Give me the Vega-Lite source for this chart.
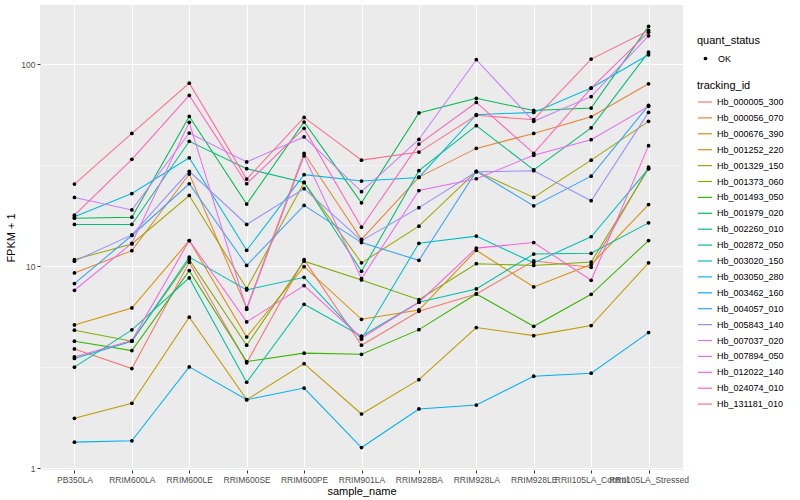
{
"$schema": "https://vega.github.io/schema/vega-lite/v6.json",
"autosize": {"type": "none"},
"padding": {"left": 40, "top": 5, "right": 117, "bottom": 30},
"width": 643,
"height": 465,
"background": "white",
"config": {
  "font": "Liberation Sans",
  "view": {"fill": "#EBEBEB", "stroke": null},
  "axis": {"domain": false, "labelColor": "#4D4D4D", "labelFontSize": 8.5, "tickColor": "#333333", "tickSize": 3, "gridColor": "white", "titleFontWeight": "normal", "titleFontSize": 11, "titleColor": "black", "labelPadding": 2},
  "legend": {"titleFontWeight": "normal", "titleFontSize": 11, "titleColor": "black", "labelFontSize": 9, "labelColor": "black", "padding": 0}
},
"data": {"values": [
{"id":"Hb_000005_300","sample":"PB350LA","fpkm":3.90,"status":"OK"},
{"id":"Hb_000005_300","sample":"RRIM600LA","fpkm":3.12,"status":"OK"},
{"id":"Hb_000005_300","sample":"RRIM600LE","fpkm":10.47,"status":"OK"},
{"id":"Hb_000005_300","sample":"RRIM600SE","fpkm":3.33,"status":"OK"},
{"id":"Hb_000005_300","sample":"RRIM600PE","fpkm":10.79,"status":"OK"},
{"id":"Hb_000005_300","sample":"RRIM901LA","fpkm":4.07,"status":"OK"},
{"id":"Hb_000005_300","sample":"RRIM928BA","fpkm":5.99,"status":"OK"},
{"id":"Hb_000005_300","sample":"RRIM928LA","fpkm":7.30,"status":"OK"},
{"id":"Hb_000005_300","sample":"RRIM928LE","fpkm":10.63,"status":"OK"},
{"id":"Hb_000005_300","sample":"RRII105LA_Control","fpkm":9.89,"status":"OK"},
{"id":"Hb_000005_300","sample":"RRII105LA_Stressed","fpkm":30.97,"status":"OK"},
{"id":"Hb_000056_070","sample":"PB350LA","fpkm":9.27,"status":"OK"},
{"id":"Hb_000056_070","sample":"RRIM600LA","fpkm":11.95,"status":"OK"},
{"id":"Hb_000056_070","sample":"RRIM600LE","fpkm":28.6,"status":"OK"},
{"id":"Hb_000056_070","sample":"RRIM600SE","fpkm":6.22,"status":"OK"},
{"id":"Hb_000056_070","sample":"RRIM600PE","fpkm":36.2,"status":"OK"},
{"id":"Hb_000056_070","sample":"RRIM901LA","fpkm":13.6,"status":"OK"},
{"id":"Hb_000056_070","sample":"RRIM928BA","fpkm":27.6,"status":"OK"},
{"id":"Hb_000056_070","sample":"RRIM928LA","fpkm":38.3,"status":"OK"},
{"id":"Hb_000056_070","sample":"RRIM928LE","fpkm":45.4,"status":"OK"},
{"id":"Hb_000056_070","sample":"RRII105LA_Control","fpkm":54.9,"status":"OK"},
{"id":"Hb_000056_070","sample":"RRII105LA_Stressed","fpkm":79.9,"status":"OK"},
{"id":"Hb_000676_390","sample":"PB350LA","fpkm":5.13,"status":"OK"},
{"id":"Hb_000676_390","sample":"RRIM600LA","fpkm":6.22,"status":"OK"},
{"id":"Hb_000676_390","sample":"RRIM600LE","fpkm":13.4,"status":"OK"},
{"id":"Hb_000676_390","sample":"RRIM600SE","fpkm":4.47,"status":"OK"},
{"id":"Hb_000676_390","sample":"RRIM600PE","fpkm":9.96,"status":"OK"},
{"id":"Hb_000676_390","sample":"RRIM901LA","fpkm":5.47,"status":"OK"},
{"id":"Hb_000676_390","sample":"RRIM928BA","fpkm":6.08,"status":"OK"},
{"id":"Hb_000676_390","sample":"RRIM928LA","fpkm":12.0,"status":"OK"},
{"id":"Hb_000676_390","sample":"RRIM928LE","fpkm":7.90,"status":"OK"},
{"id":"Hb_000676_390","sample":"RRII105LA_Control","fpkm":10.2,"status":"OK"},
{"id":"Hb_000676_390","sample":"RRII105LA_Stressed","fpkm":20.2,"status":"OK"},
{"id":"Hb_001252_220","sample":"PB350LA","fpkm":1.77,"status":"OK"},
{"id":"Hb_001252_220","sample":"RRIM600LA","fpkm":2.10,"status":"OK"},
{"id":"Hb_001252_220","sample":"RRIM600LE","fpkm":5.60,"status":"OK"},
{"id":"Hb_001252_220","sample":"RRIM600SE","fpkm":2.19,"status":"OK"},
{"id":"Hb_001252_220","sample":"RRIM600PE","fpkm":3.30,"status":"OK"},
{"id":"Hb_001252_220","sample":"RRIM901LA","fpkm":1.86,"status":"OK"},
{"id":"Hb_001252_220","sample":"RRIM928BA","fpkm":2.75,"status":"OK"},
{"id":"Hb_001252_220","sample":"RRIM928LA","fpkm":4.98,"status":"OK"},
{"id":"Hb_001252_220","sample":"RRIM928LE","fpkm":4.54,"status":"OK"},
{"id":"Hb_001252_220","sample":"RRII105LA_Control","fpkm":5.09,"status":"OK"},
{"id":"Hb_001252_220","sample":"RRII105LA_Stressed","fpkm":10.4,"status":"OK"},
{"id":"Hb_001329_150","sample":"PB350LA","fpkm":10.79,"status":"OK"},
{"id":"Hb_001329_150","sample":"RRIM600LA","fpkm":12.9,"status":"OK"},
{"id":"Hb_001329_150","sample":"RRIM600LE","fpkm":22.4,"status":"OK"},
{"id":"Hb_001329_150","sample":"RRIM600SE","fpkm":7.76,"status":"OK"},
{"id":"Hb_001329_150","sample":"RRIM600PE","fpkm":26.0,"status":"OK"},
{"id":"Hb_001329_150","sample":"RRIM901LA","fpkm":10.4,"status":"OK"},
{"id":"Hb_001329_150","sample":"RRIM928BA","fpkm":15.8,"status":"OK"},
{"id":"Hb_001329_150","sample":"RRIM928LA","fpkm":29.5,"status":"OK"},
{"id":"Hb_001329_150","sample":"RRIM928LE","fpkm":21.9,"status":"OK"},
{"id":"Hb_001329_150","sample":"RRII105LA_Control","fpkm":33.5,"status":"OK"},
{"id":"Hb_001329_150","sample":"RRII105LA_Stressed","fpkm":52.1,"status":"OK"},
{"id":"Hb_001373_060","sample":"PB350LA","fpkm":4.83,"status":"OK"},
{"id":"Hb_001373_060","sample":"RRIM600LA","fpkm":4.26,"status":"OK"},
{"id":"Hb_001373_060","sample":"RRIM600LE","fpkm":10.79,"status":"OK"},
{"id":"Hb_001373_060","sample":"RRIM600SE","fpkm":4.07,"status":"OK"},
{"id":"Hb_001373_060","sample":"RRIM600PE","fpkm":10.6,"status":"OK"},
{"id":"Hb_001373_060","sample":"RRIM901LA","fpkm":8.56,"status":"OK"},
{"id":"Hb_001373_060","sample":"RRIM928BA","fpkm":6.84,"status":"OK"},
{"id":"Hb_001373_060","sample":"RRIM928LA","fpkm":10.3,"status":"OK"},
{"id":"Hb_001373_060","sample":"RRIM928LE","fpkm":10.1,"status":"OK"},
{"id":"Hb_001373_060","sample":"RRII105LA_Control","fpkm":10.5,"status":"OK"},
{"id":"Hb_001373_060","sample":"RRII105LA_Stressed","fpkm":30.4,"status":"OK"},
{"id":"Hb_001493_050","sample":"PB350LA","fpkm":4.26,"status":"OK"},
{"id":"Hb_001493_050","sample":"RRIM600LA","fpkm":3.83,"status":"OK"},
{"id":"Hb_001493_050","sample":"RRIM600LE","fpkm":9.52,"status":"OK"},
{"id":"Hb_001493_050","sample":"RRIM600SE","fpkm":3.38,"status":"OK"},
{"id":"Hb_001493_050","sample":"RRIM600PE","fpkm":3.72,"status":"OK"},
{"id":"Hb_001493_050","sample":"RRIM901LA","fpkm":3.67,"status":"OK"},
{"id":"Hb_001493_050","sample":"RRIM928BA","fpkm":4.86,"status":"OK"},
{"id":"Hb_001493_050","sample":"RRIM928LA","fpkm":7.30,"status":"OK"},
{"id":"Hb_001493_050","sample":"RRIM928LE","fpkm":5.05,"status":"OK"},
{"id":"Hb_001493_050","sample":"RRII105LA_Control","fpkm":7.27,"status":"OK"},
{"id":"Hb_001493_050","sample":"RRII105LA_Stressed","fpkm":13.4,"status":"OK"},
{"id":"Hb_001979_020","sample":"PB350LA","fpkm":17.3,"status":"OK"},
{"id":"Hb_001979_020","sample":"RRIM600LA","fpkm":17.5,"status":"OK"},
{"id":"Hb_001979_020","sample":"RRIM600LE","fpkm":55.1,"status":"OK"},
{"id":"Hb_001979_020","sample":"RRIM600SE","fpkm":20.3,"status":"OK"},
{"id":"Hb_001979_020","sample":"RRIM600PE","fpkm":51.7,"status":"OK"},
{"id":"Hb_001979_020","sample":"RRIM901LA","fpkm":20.6,"status":"OK"},
{"id":"Hb_001979_020","sample":"RRIM928BA","fpkm":57.3,"status":"OK"},
{"id":"Hb_001979_020","sample":"RRIM928LA","fpkm":67.7,"status":"OK"},
{"id":"Hb_001979_020","sample":"RRIM928LE","fpkm":59.0,"status":"OK"},
{"id":"Hb_001979_020","sample":"RRII105LA_Control","fpkm":60.6,"status":"OK"},
{"id":"Hb_001979_020","sample":"RRII105LA_Stressed","fpkm":153.6,"status":"OK"},
{"id":"Hb_002260_010","sample":"PB350LA","fpkm":16.1,"status":"OK"},
{"id":"Hb_002260_010","sample":"RRIM600LA","fpkm":16.1,"status":"OK"},
{"id":"Hb_002260_010","sample":"RRIM600LE","fpkm":41.5,"status":"OK"},
{"id":"Hb_002260_010","sample":"RRIM600SE","fpkm":30.4,"status":"OK"},
{"id":"Hb_002260_010","sample":"RRIM600PE","fpkm":26.0,"status":"OK"},
{"id":"Hb_002260_010","sample":"RRIM901LA","fpkm":9.45,"status":"OK"},
{"id":"Hb_002260_010","sample":"RRIM928BA","fpkm":29.7,"status":"OK"},
{"id":"Hb_002260_010","sample":"RRIM928LA","fpkm":49.6,"status":"OK"},
{"id":"Hb_002260_010","sample":"RRIM928LE","fpkm":30.0,"status":"OK"},
{"id":"Hb_002260_010","sample":"RRII105LA_Control","fpkm":48.4,"status":"OK"},
{"id":"Hb_002260_010","sample":"RRII105LA_Stressed","fpkm":114.6,"status":"OK"},
{"id":"Hb_002872_050","sample":"PB350LA","fpkm":3.17,"status":"OK"},
{"id":"Hb_002872_050","sample":"RRIM600LA","fpkm":4.85,"status":"OK"},
{"id":"Hb_002872_050","sample":"RRIM600LE","fpkm":8.76,"status":"OK"},
{"id":"Hb_002872_050","sample":"RRIM600SE","fpkm":2.67,"status":"OK"},
{"id":"Hb_002872_050","sample":"RRIM600PE","fpkm":6.49,"status":"OK"},
{"id":"Hb_002872_050","sample":"RRIM901LA","fpkm":4.51,"status":"OK"},
{"id":"Hb_002872_050","sample":"RRIM928BA","fpkm":6.64,"status":"OK"},
{"id":"Hb_002872_050","sample":"RRIM928LA","fpkm":7.73,"status":"OK"},
{"id":"Hb_002872_050","sample":"RRIM928LE","fpkm":11.5,"status":"OK"},
{"id":"Hb_002872_050","sample":"RRII105LA_Control","fpkm":11.6,"status":"OK"},
{"id":"Hb_002872_050","sample":"RRII105LA_Stressed","fpkm":16.4,"status":"OK"},
{"id":"Hb_003020_150","sample":"PB350LA","fpkm":3.50,"status":"OK"},
{"id":"Hb_003020_150","sample":"RRIM600LA","fpkm":4.26,"status":"OK"},
{"id":"Hb_003020_150","sample":"RRIM600LE","fpkm":11.1,"status":"OK"},
{"id":"Hb_003020_150","sample":"RRIM600SE","fpkm":7.64,"status":"OK"},
{"id":"Hb_003020_150","sample":"RRIM600PE","fpkm":8.82,"status":"OK"},
{"id":"Hb_003020_150","sample":"RRIM901LA","fpkm":4.36,"status":"OK"},
{"id":"Hb_003020_150","sample":"RRIM928BA","fpkm":13.0,"status":"OK"},
{"id":"Hb_003020_150","sample":"RRIM928LA","fpkm":14.1,"status":"OK"},
{"id":"Hb_003020_150","sample":"RRIM928LE","fpkm":10.4,"status":"OK"},
{"id":"Hb_003020_150","sample":"RRII105LA_Control","fpkm":14.0,"status":"OK"},
{"id":"Hb_003020_150","sample":"RRII105LA_Stressed","fpkm":30.4,"status":"OK"},
{"id":"Hb_003050_280","sample":"PB350LA","fpkm":17.6,"status":"OK"},
{"id":"Hb_003050_280","sample":"RRIM600LA","fpkm":22.9,"status":"OK"},
{"id":"Hb_003050_280","sample":"RRIM600LE","fpkm":34.4,"status":"OK"},
{"id":"Hb_003050_280","sample":"RRIM600SE","fpkm":12.0,"status":"OK"},
{"id":"Hb_003050_280","sample":"RRIM600PE","fpkm":28.4,"status":"OK"},
{"id":"Hb_003050_280","sample":"RRIM901LA","fpkm":26.4,"status":"OK"},
{"id":"Hb_003050_280","sample":"RRIM928BA","fpkm":27.5,"status":"OK"},
{"id":"Hb_003050_280","sample":"RRIM928LA","fpkm":56.2,"status":"OK"},
{"id":"Hb_003050_280","sample":"RRIM928LE","fpkm":57.7,"status":"OK"},
{"id":"Hb_003050_280","sample":"RRII105LA_Control","fpkm":76.1,"status":"OK"},
{"id":"Hb_003050_280","sample":"RRII105LA_Stressed","fpkm":111.2,"status":"OK"},
{"id":"Hb_003462_160","sample":"PB350LA","fpkm":1.35,"status":"OK"},
{"id":"Hb_003462_160","sample":"RRIM600LA","fpkm":1.37,"status":"OK"},
{"id":"Hb_003462_160","sample":"RRIM600LE","fpkm":3.18,"status":"OK"},
{"id":"Hb_003462_160","sample":"RRIM600SE","fpkm":2.19,"status":"OK"},
{"id":"Hb_003462_160","sample":"RRIM600PE","fpkm":2.50,"status":"OK"},
{"id":"Hb_003462_160","sample":"RRIM901LA","fpkm":1.27,"status":"OK"},
{"id":"Hb_003462_160","sample":"RRIM928BA","fpkm":1.97,"status":"OK"},
{"id":"Hb_003462_160","sample":"RRIM928LA","fpkm":2.06,"status":"OK"},
{"id":"Hb_003462_160","sample":"RRIM928LE","fpkm":2.86,"status":"OK"},
{"id":"Hb_003462_160","sample":"RRII105LA_Control","fpkm":2.96,"status":"OK"},
{"id":"Hb_003462_160","sample":"RRII105LA_Stressed","fpkm":4.70,"status":"OK"},
{"id":"Hb_004057_010","sample":"PB350LA","fpkm":8.21,"status":"OK"},
{"id":"Hb_004057_010","sample":"RRIM600LA","fpkm":14.2,"status":"OK"},
{"id":"Hb_004057_010","sample":"RRIM600LE","fpkm":25.6,"status":"OK"},
{"id":"Hb_004057_010","sample":"RRIM600SE","fpkm":10.1,"status":"OK"},
{"id":"Hb_004057_010","sample":"RRIM600PE","fpkm":20.0,"status":"OK"},
{"id":"Hb_004057_010","sample":"RRIM901LA","fpkm":13.1,"status":"OK"},
{"id":"Hb_004057_010","sample":"RRIM928BA","fpkm":10.7,"status":"OK"},
{"id":"Hb_004057_010","sample":"RRIM928LA","fpkm":29.5,"status":"OK"},
{"id":"Hb_004057_010","sample":"RRIM928LE","fpkm":19.9,"status":"OK"},
{"id":"Hb_004057_010","sample":"RRII105LA_Control","fpkm":27.9,"status":"OK"},
{"id":"Hb_004057_010","sample":"RRII105LA_Stressed","fpkm":62.5,"status":"OK"},
{"id":"Hb_005843_140","sample":"PB350LA","fpkm":10.6,"status":"OK"},
{"id":"Hb_005843_140","sample":"RRIM600LA","fpkm":14.3,"status":"OK"},
{"id":"Hb_005843_140","sample":"RRIM600LE","fpkm":29.5,"status":"OK"},
{"id":"Hb_005843_140","sample":"RRIM600SE","fpkm":16.1,"status":"OK"},
{"id":"Hb_005843_140","sample":"RRIM600PE","fpkm":24.2,"status":"OK"},
{"id":"Hb_005843_140","sample":"RRIM901LA","fpkm":13.4,"status":"OK"},
{"id":"Hb_005843_140","sample":"RRIM928BA","fpkm":19.5,"status":"OK"},
{"id":"Hb_005843_140","sample":"RRIM928LA","fpkm":29.3,"status":"OK"},
{"id":"Hb_005843_140","sample":"RRIM928LE","fpkm":29.7,"status":"OK"},
{"id":"Hb_005843_140","sample":"RRII105LA_Control","fpkm":21.1,"status":"OK"},
{"id":"Hb_005843_140","sample":"RRII105LA_Stressed","fpkm":57.7,"status":"OK"},
{"id":"Hb_007037_020","sample":"PB350LA","fpkm":21.9,"status":"OK"},
{"id":"Hb_007037_020","sample":"RRIM600LA","fpkm":19.0,"status":"OK"},
{"id":"Hb_007037_020","sample":"RRIM600LE","fpkm":45.6,"status":"OK"},
{"id":"Hb_007037_020","sample":"RRIM600SE","fpkm":32.8,"status":"OK"},
{"id":"Hb_007037_020","sample":"RRIM600PE","fpkm":43.6,"status":"OK"},
{"id":"Hb_007037_020","sample":"RRIM901LA","fpkm":23.4,"status":"OK"},
{"id":"Hb_007037_020","sample":"RRIM928BA","fpkm":42.4,"status":"OK"},
{"id":"Hb_007037_020","sample":"RRIM928LA","fpkm":105.1,"status":"OK"},
{"id":"Hb_007037_020","sample":"RRIM928LE","fpkm":52.1,"status":"OK"},
{"id":"Hb_007037_020","sample":"RRII105LA_Control","fpkm":69.0,"status":"OK"},
{"id":"Hb_007037_020","sample":"RRII105LA_Stressed","fpkm":138.0,"status":"OK"},
{"id":"Hb_007894_050","sample":"PB350LA","fpkm":7.61,"status":"OK"},
{"id":"Hb_007894_050","sample":"RRIM600LA","fpkm":13.0,"status":"OK"},
{"id":"Hb_007894_050","sample":"RRIM600LE","fpkm":51.5,"status":"OK"},
{"id":"Hb_007894_050","sample":"RRIM600SE","fpkm":6.13,"status":"OK"},
{"id":"Hb_007894_050","sample":"RRIM600PE","fpkm":35.2,"status":"OK"},
{"id":"Hb_007894_050","sample":"RRIM901LA","fpkm":8.69,"status":"OK"},
{"id":"Hb_007894_050","sample":"RRIM928BA","fpkm":23.7,"status":"OK"},
{"id":"Hb_007894_050","sample":"RRIM928LA","fpkm":27.1,"status":"OK"},
{"id":"Hb_007894_050","sample":"RRIM928LE","fpkm":35.4,"status":"OK"},
{"id":"Hb_007894_050","sample":"RRII105LA_Control","fpkm":42.3,"status":"OK"},
{"id":"Hb_007894_050","sample":"RRII105LA_Stressed","fpkm":61.8,"status":"OK"},
{"id":"Hb_012022_140","sample":"PB350LA","fpkm":3.56,"status":"OK"},
{"id":"Hb_012022_140","sample":"RRIM600LA","fpkm":4.29,"status":"OK"},
{"id":"Hb_012022_140","sample":"RRIM600LE","fpkm":13.4,"status":"OK"},
{"id":"Hb_012022_140","sample":"RRIM600SE","fpkm":5.31,"status":"OK"},
{"id":"Hb_012022_140","sample":"RRIM600PE","fpkm":8.03,"status":"OK"},
{"id":"Hb_012022_140","sample":"RRIM901LA","fpkm":4.42,"status":"OK"},
{"id":"Hb_012022_140","sample":"RRIM928BA","fpkm":6.64,"status":"OK"},
{"id":"Hb_012022_140","sample":"RRIM928LA","fpkm":12.3,"status":"OK"},
{"id":"Hb_012022_140","sample":"RRIM928LE","fpkm":13.1,"status":"OK"},
{"id":"Hb_012022_140","sample":"RRII105LA_Control","fpkm":8.53,"status":"OK"},
{"id":"Hb_012022_140","sample":"RRII105LA_Stressed","fpkm":39.5,"status":"OK"},
{"id":"Hb_024074_010","sample":"PB350LA","fpkm":17.9,"status":"OK"},
{"id":"Hb_024074_010","sample":"RRIM600LA","fpkm":33.8,"status":"OK"},
{"id":"Hb_024074_010","sample":"RRIM600LE","fpkm":70.0,"status":"OK"},
{"id":"Hb_024074_010","sample":"RRIM600SE","fpkm":25.6,"status":"OK"},
{"id":"Hb_024074_010","sample":"RRIM600PE","fpkm":48.1,"status":"OK"},
{"id":"Hb_024074_010","sample":"RRIM901LA","fpkm":15.6,"status":"OK"},
{"id":"Hb_024074_010","sample":"RRIM928BA","fpkm":40.2,"status":"OK"},
{"id":"Hb_024074_010","sample":"RRIM928LA","fpkm":64.6,"status":"OK"},
{"id":"Hb_024074_010","sample":"RRIM928LE","fpkm":36.2,"status":"OK"},
{"id":"Hb_024074_010","sample":"RRII105LA_Control","fpkm":76.1,"status":"OK"},
{"id":"Hb_024074_010","sample":"RRII105LA_Stressed","fpkm":143.9,"status":"OK"},
{"id":"Hb_131181_010","sample":"PB350LA","fpkm":25.5,"status":"OK"},
{"id":"Hb_131181_010","sample":"RRIM600LA","fpkm":45.4,"status":"OK"},
{"id":"Hb_131181_010","sample":"RRIM600LE","fpkm":80.5,"status":"OK"},
{"id":"Hb_131181_010","sample":"RRIM600SE","fpkm":27.0,"status":"OK"},
{"id":"Hb_131181_010","sample":"RRIM600PE","fpkm":54.5,"status":"OK"},
{"id":"Hb_131181_010","sample":"RRIM901LA","fpkm":33.5,"status":"OK"},
{"id":"Hb_131181_010","sample":"RRIM928BA","fpkm":36.7,"status":"OK"},
{"id":"Hb_131181_010","sample":"RRIM928LA","fpkm":55.8,"status":"OK"},
{"id":"Hb_131181_010","sample":"RRIM928LE","fpkm":53.1,"status":"OK"},
{"id":"Hb_131181_010","sample":"RRII105LA_Control","fpkm":105.9,"status":"OK"},
{"id":"Hb_131181_010","sample":"RRII105LA_Stressed","fpkm":146.7,"status":"OK"}
]},
"encoding": {
  "x": {"field": "sample", "type": "nominal",
    "sort": ["PB350LA","RRIM600LA","RRIM600LE","RRIM600SE","RRIM600PE","RRIM901LA","RRIM928BA","RRIM928LA","RRIM928LE","RRII105LA_Control","RRII105LA_Stressed"],
    "scale": {"type": "point", "padding": 0.6},
    "axis": {"title": "sample_name", "labelAngle": 0, "labelOverlap": false, "labelBound": false, "labelLimit": 0, "grid": true, "gridWidth": 1.1, "titlePadding": 2}},
  "y": {"field": "fpkm", "type": "quantitative",
    "scale": {"type": "log", "domain": [0.983, 196], "nice": false, "zero": false},
    "axis": {"title": "FPKM + 1", "values": [1, 3.1623, 10, 31.623, 100],
      "labelExpr": "datum.value < 2 ? '1' : datum.value < 5 ? '' : datum.value < 20 ? '10' : datum.value < 50 ? '' : '100'",
      "grid": true,
      "gridWidth": {"condition": {"test": "datum.value < 2 || (datum.value > 5 && datum.value < 20) || datum.value > 50", "value": 1.1}, "value": 0.5},
      "tickOpacity": {"condition": {"test": "datum.value < 2 || (datum.value > 5 && datum.value < 20) || datum.value > 50", "value": 1}, "value": 0},
      "titlePadding": 4}}
},
"layer": [
  {"mark": {"type": "line", "strokeWidth": 1.05},
   "encoding": {
     "color": {"field": "id", "type": "nominal",
       "scale": {"range": ["#F8766D","#EA8331","#D89000","#C09B00","#A3A500","#7CAE00","#39B600","#00BB4E","#00BF7D","#00C1A3","#00BFC4","#00BAE0","#00B0F6","#35A2FF","#9590FF","#C77CFF","#E76BF3","#FA62DB","#FF62BC","#FF6C91"]},
       "legend": {"title": "tracking_id", "orient": "none", "legendX": 657, "legendY": 75, "symbolType": "stroke", "symbolStrokeWidth": 1.2, "symbolSize": 200, "rowPadding": 2.9, "labelOffset": 4, "titlePadding": 3}},
     "order": {"value": null}
   }},
  {"mark": {"type": "point", "filled": true, "color": "black", "size": 14, "opacity": 1},
   "encoding": {
     "shape": {"field": "status", "type": "nominal", "scale": {"range": ["circle"]},
       "legend": {"title": "quant_status", "orient": "none", "legendX": 657, "legendY": 30, "symbolFillColor": "black", "symbolStrokeColor": "black", "symbolSize": 14, "symbolOffset": 4, "labelOffset": 8, "titlePadding": 8}}
   }}
]
}
